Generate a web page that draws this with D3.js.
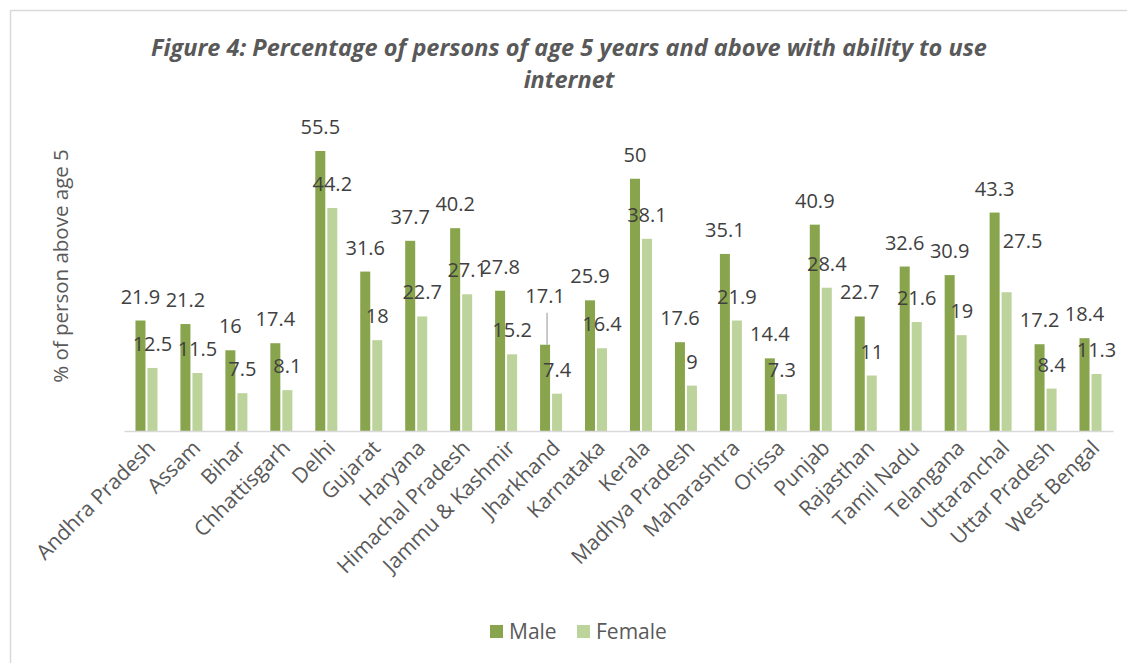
<!DOCTYPE html>
<html>
<head>
<meta charset="utf-8">
<script src="https://cdn.jsdelivr.net/npm/d3@7"></script>
<style>
  html, body { margin: 0; padding: 0; background: #fff; }
  svg { display: block; }
</style>
</head>
<body>
<svg id="chart" width="1127" height="663"></svg>
<script>
const categories = ["Andhra Pradesh","Assam","Bihar","Chhattisgarh","Delhi","Gujarat","Haryana","Himachal Pradesh","Jammu & Kashmir","Jharkhand","Karnataka","Kerala","Madhya Pradesh","Maharashtra","Orissa","Punjab","Rajasthan","Tamil Nadu","Telangana","Uttaranchal","Uttar Pradesh","West Bengal"];
const maleValues = [21.9,21.2,16,17.4,55.5,31.6,37.7,40.2,27.8,17.1,25.9,50,17.6,35.1,14.4,40.9,22.7,32.6,30.9,43.3,17.2,18.4];
const femaleValues = [12.5,11.5,7.5,8.1,44.2,18,22.7,27.1,15.2,7.4,16.4,38.1,9,21.9,7.3,28.4,11,21.6,19,27.5,8.4,11.3];
const seriesNames = ["Male","Female"];
const titleLines = ["Figure 4: Percentage of persons of age 5 years and above with ability to use","internet"];
const yAxisTitle = "% of person above age 5";

const colors = {Male: "#88a44c", Female: "#bcd39b"};
const svg = d3.select("#chart");
const FONT = "'Open Sans', 'Noto Sans', sans-serif";

// frame
svg.append("rect").attr("x", 10.5).attr("y", 10.5).attr("width", 1300).attr("height", 900)
  .attr("fill", "none").attr("stroke", "#d9d9d9").attr("stroke-width", 1.5);

const x0 = d3.scaleBand().domain(categories).range([124, 1113]).paddingInner(0).paddingOuter(0);
const y = d3.scaleLinear().domain([0, 60]).range([431, 128.3]);
const barW = 10, gap = 2;

// title
svg.append("g").selectAll("text").data(titleLines).join("text")
  .attr("x", 569).attr("y", (d, i) => 56 + i * 32)
  .attr("text-anchor", "middle")
  .attr("font-family", FONT).attr("font-weight", "bold").attr("font-style", "italic")
  .attr("font-size", 23.5).attr("fill", "#595959")
  .text(d => d);

// y axis title
svg.append("text")
  .attr("transform", "translate(68,266) rotate(-90)")
  .attr("text-anchor", "middle")
  .attr("font-family", FONT).attr("font-size", 20.5).attr("fill", "#595959")
  .text(yAxisTitle);

const rows = categories.map((c, i) => ({cat: c, Male: maleValues[i], Female: femaleValues[i]}));
const barX = (cat, s) => x0(cat) + x0.bandwidth() / 2 + (s === "Male" ? -(barW + gap / 2) : gap / 2);

// bars
const g = svg.append("g");
seriesNames.forEach(s => {
  g.selectAll("rect." + s).data(rows).join("rect").attr("class", s)
    .attr("x", d => barX(d.cat, s))
    .attr("y", d => y(d[s]))
    .attr("width", barW)
    .attr("height", d => y(0) - y(d[s]))
    .attr("fill", colors[s]);
});

// x axis line
const xAxis = d3.axisBottom(x0).tickSize(0).tickFormat("");
const ax = svg.append("g").attr("transform", "translate(0,431)").call(xAxis);
ax.select(".domain").attr("stroke", "#d9d9d9").attr("stroke-width", 1.5);

// category labels
svg.append("g").selectAll("text").data(categories).join("text")
  .attr("transform", d => `translate(${x0(d) + x0.bandwidth() / 2 + 5},${444}) rotate(-45)`)
  .attr("text-anchor", "end")
  .attr("dy", "0.35em")
  .attr("font-family", FONT).attr("font-size", 21).attr("fill", "#595959")
  .text(d => d);

// label overrides (manual moves as in the reference)
const labelMoves = {
  "Jharkhand|Male": {dx: 0, dy: -25, leader: true},
  "Uttaranchal|Female": {dx: 16, dy: -27, leader: false}
};

seriesNames.forEach(s => {
  const lg = svg.append("g");
  rows.forEach(d => {
    const m = labelMoves[d.cat + "|" + s] || {dx: 0, dy: 0};
    const cx = barX(d.cat, s) + barW / 2;
    const base = y(d[s]) - 17;
    lg.append("text")
      .attr("x", cx + m.dx).attr("y", base + m.dy)
      .attr("text-anchor", "middle")
      .attr("font-family", FONT).attr("font-size", 20).attr("fill", "#404040")
      .text(d[s]);
    if (m.leader) {
      lg.append("line")
        .attr("x1", cx + 2).attr("x2", cx + 2)
        .attr("y1", base + m.dy + 10).attr("y2", y(d[s]))
        .attr("stroke", "#a6a6a6").attr("stroke-width", 1.2);
    }
  });
});

// legend
const leg = svg.append("g");
const legItems = [{name: "Male", x: 490}, {name: "Female", x: 577}];
leg.selectAll("rect").data(legItems).join("rect")
  .attr("x", d => d.x).attr("y", 625).attr("width", 13).attr("height", 13)
  .attr("fill", d => colors[d.name]);
leg.selectAll("text").data(legItems).join("text")
  .attr("x", d => d.x + 19).attr("y", 639)
  .attr("font-family", FONT).attr("font-size", 21).attr("fill", "#595959")
  .text(d => d.name);
</script>
</body>
</html>
